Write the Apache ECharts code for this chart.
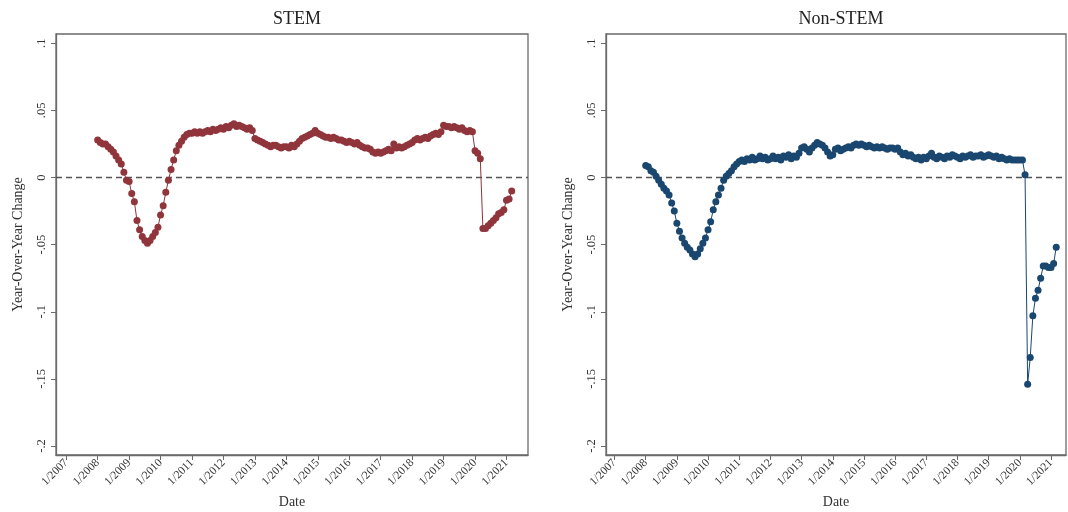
<!DOCTYPE html>
<html>
<head>
<meta charset="utf-8">
<script src="https://cdn.jsdelivr.net/npm/echarts@6/dist/echarts.min.js"></script>
<style>
html,body{margin:0;padding:0;background:#fff;}
#chart{width:1068px;height:512px;}
</style>
</head>
<body>
<div id="chart"></div>
<script>
// ---- Data (monthly, Jan 2008 – Mar 2021) ----
const startYear = 2008, endYear = 2021, endMonth = 3;
const panelTitles = ['STEM', 'Non-STEM'];
const yTickValues = [-0.2, -0.15, -0.1, -0.05, 0, 0.05, 0.1];
const xTickYears = [2007, 2008, 2009, 2010, 2011, 2012, 2013, 2014, 2015, 2016, 2017, 2018, 2019, 2020, 2021];

const stem = [
  // 2008
  .028,.026,.025,.025,.023,.021,.019,.016,.013,.010,.004,-.002,
  // 2009
  -.003,-.012,-.018,-.032,-.039,-.044,-.047,-.049,-.047,-.044,-.041,-.037,
  // 2010
  -.028,-.021,-.011,-.002,.006,.013,.020,.024,.027,.030,.032,.033,
  // 2011
  .033,.034,.033,.034,.033,.034,.035,.034,.036,.035,.036,.037,
  // 2012
  .036,.038,.037,.039,.040,.038,.039,.038,.037,.036,.037,.035,
  // 2013
  .029,.028,.027,.026,.025,.024,.023,.024,.024,.023,.022,.023,
  // 2014
  .023,.022,.024,.023,.025,.027,.029,.030,.031,.032,.033,.035,
  // 2015
  .033,.032,.031,.030,.030,.029,.030,.029,.028,.028,.027,.026,
  // 2016
  .027,.026,.025,.026,.024,.023,.022,.022,.021,.019,.018,.019,
  // 2017
  .018,.019,.020,.021,.020,.025,.022,.023,.022,.023,.024,.025,
  // 2018
  .026,.028,.029,.028,.029,.030,.029,.031,.032,.033,.032,.034,
  // 2019
  .039,.038,.038,.037,.038,.037,.036,.037,.035,.034,.035,.034,
  // 2020
  .020,.018,.014,-.038,-.038,-.036,-.034,-.032,-.030,-.027,-.026,-.024,
  // 2021
  -.017,-.016,-.010
];

const nonStem = [
  // 2008
  .009,.008,.005,.004,.001,-.002,-.005,-.008,-.010,-.013,-.019,-.025,
  // 2009
  -.034,-.040,-.045,-.049,-.052,-.054,-.057,-.059,-.057,-.053,-.049,-.045,
  // 2010
  -.039,-.033,-.024,-.018,-.013,-.008,-.002,.001,.003,.005,.008,.010,
  // 2011
  .012,.013,.012,.014,.013,.015,.013,.014,.016,.014,.015,.013,
  // 2012
  .014,.016,.014,.015,.013,.016,.015,.017,.014,.016,.015,.018,
  // 2013
  .022,.023,.021,.019,.022,.024,.026,.025,.024,.022,.019,.016,
  // 2014
  .017,.021,.022,.020,.021,.022,.023,.022,.024,.025,.024,.025,
  // 2015
  .024,.023,.024,.023,.022,.023,.022,.023,.022,.021,.022,.022,
  // 2016
  .021,.022,.019,.017,.018,.016,.017,.015,.014,.015,.013,.015,
  // 2017
  .014,.016,.018,.015,.014,.016,.015,.014,.016,.015,.017,.016,
  // 2018
  .015,.014,.016,.015,.016,.017,.015,.016,.016,.017,.015,.016,
  // 2019
  .017,.016,.015,.016,.014,.015,.014,.013,.014,.013,.013,.013,
  // 2020
  .013,.013,.002,-.154,-.134,-.103,-.090,-.084,-.075,-.066,-.066,-.067,
  // 2021
  -.067,-.064,-.052
];

// month positions (decimal years)
const monthX = [];
for (let y = startYear; y <= endYear; y++) {
  for (let m = 1; m <= 12; m++) {
    if (y === endYear && m > endMonth) break;
    monthX.push(y + (m - 1) / 12);
  }
}

const FONT = 'Liberation Serif';
const TXT = '#333';
const AX = '#6a6a6a';

function yFmt(v) {
  const r = Math.round(v * 100) / 100;
  if (r === 0) return '0';
  const s = String(Math.abs(r)).replace(/^0/, '');
  return (r < 0 ? '-' : '') + s;
}

const grids = [
  {left: 56, top: 34, width: 472, height: 421},
  {left: 606, top: 34, width: 460, height: 421}
];
const xRanges = [[2006.675, 2021.684], [2006.727, 2021.48]];
const colors = ['#90353B', '#1A476F'];
const seriesData = [stem, nonStem];

const option = {
  animation: false,
  backgroundColor: '#fff',
  title: panelTitles.map((t, i) => ({
    text: t,
    left: grids[i].left + grids[i].width / 2,
    top: 5,
    textAlign: 'center',
    textStyle: {fontFamily: FONT, fontSize: 18, fontWeight: 'normal', color: '#222'}
  })),
  grid: grids.map(g => Object.assign({
    show: true, borderColor: AX, borderWidth: 1.3, backgroundColor: '#fff',
    containLabel: false, outerBoundsMode: 'none'
  }, g)),
  xAxis: grids.map((g, i) => ({
    type: 'value',
    gridIndex: i,
    min: xRanges[i][0],
    max: xRanges[i][1],
    name: 'Date',
    nameLocation: 'middle',
    nameGap: 40,
    nameTextStyle: {fontFamily: FONT, fontSize: 14, color: TXT},
    axisLine: {show: true, onZero: false, lineStyle: {color: AX, width: 1.3}},
    axisTick: {show: true, length: 5, customValues: xTickYears, lineStyle: {color: AX, width: 1}},
    axisLabel: {
      customValues: xTickYears,
      rotate: 45,
      margin: 6,
      fontFamily: FONT, fontSize: 11.5, color: TXT,
      formatter: v => '1/' + Math.round(v)
    },
    splitLine: {show: false}
  })),
  yAxis: grids.map((g, i) => ({
    type: 'value',
    gridIndex: i,
    min: -0.2067,
    max: 0.1069,
    name: 'Year-Over-Year Change',
    nameLocation: 'middle',
    nameGap: 31,
    nameRotate: 90,
    nameTextStyle: {fontFamily: FONT, fontSize: 14, color: TXT},
    axisLine: {show: true, onZero: false, lineStyle: {color: AX, width: 1.3}},
    axisTick: {show: true, length: 5, customValues: yTickValues, lineStyle: {color: AX, width: 1}},
    axisLabel: {
      customValues: yTickValues,
      rotate: 90,
      margin: 8,
      fontFamily: FONT, fontSize: 12.5, color: TXT,
      formatter: yFmt
    },
    splitLine: {show: false}
  })),
  series: seriesData.map((arr, i) => ({
    type: 'line',
    xAxisIndex: i,
    yAxisIndex: i,
    data: arr.map((v, k) => [monthX[k], v]),
    symbol: 'circle',
    symbolSize: 7,
    showSymbol: true,
    itemStyle: {color: colors[i]},
    lineStyle: {color: colors[i], width: 1},
    z: 3,
    markLine: {
      silent: true,
      symbol: 'none',
      label: {show: false},
      lineStyle: {color: '#555', type: [6, 4], width: 1.3},
      data: [{yAxis: 0}],
      z: 2
    }
  }))
};

const chart = echarts.init(document.getElementById('chart'), null, {renderer: 'canvas'});
chart.setOption(option);
</script>
</body>
</html>
